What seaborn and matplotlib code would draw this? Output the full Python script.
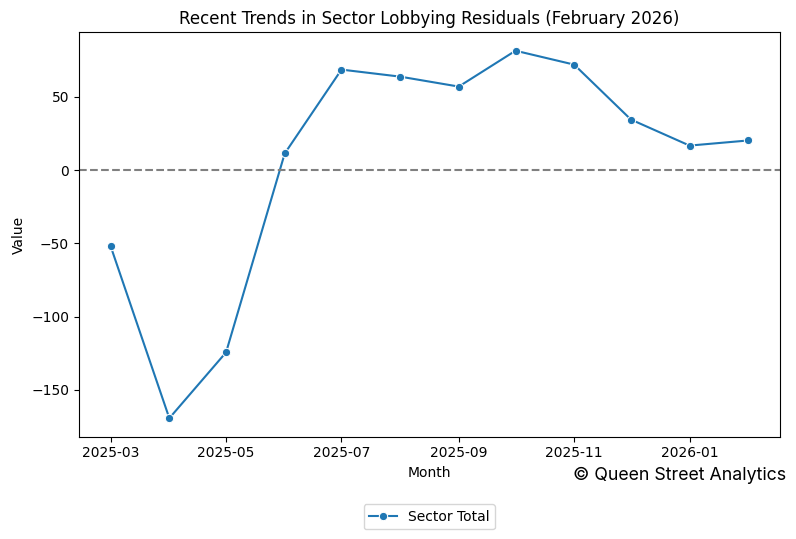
import pandas as pd
import matplotlib
matplotlib.use("Agg")
import matplotlib.pyplot as plt
import matplotlib.dates as mdates
import seaborn as sns

months = ["2025-03", "2025-04", "2025-05", "2025-06", "2025-07", "2025-08",
          "2025-09", "2025-10", "2025-11", "2025-12", "2026-01", "2026-02"]
values = [-52.0, -169.4, -124.4, 11.4, 68.7, 63.9,
          57.1, 81.6, 72.1, 34.6, 16.8, 20.3]
series_name = "Sector Total"


def main():
    df = pd.DataFrame({"Month": pd.to_datetime(months), "Value": values,
                       "Series": series_name})

    fig, ax = plt.subplots(figsize=(7.96, 5.39), dpi=100)
    fig.subplots_adjust(left=0.099, right=0.98, top=0.94, bottom=0.19)

    sns.lineplot(data=df, x="Month", y="Value", hue="Series", marker="o",
                 ax=ax, markersize=6)
    ax.axhline(0, color="gray", linestyle="--", linewidth=1.5)

    ax.xaxis.set_major_locator(mdates.MonthLocator(bymonth=[1, 3, 5, 7, 9, 11]))
    ax.xaxis.set_major_formatter(mdates.DateFormatter("%Y-%m"))

    ax.set_title("Recent Trends in Sector Lobbying Residuals (February 2026)")
    ax.set_xlabel("Month")
    ax.set_ylabel("Value")

    ax.legend(loc="upper center", bbox_to_anchor=(0.5, -0.15), ncol=1)

    fig.text(0.988, 0.117, "\u00a9 Queen Street Analytics", ha="right",
             va="center", fontsize=12.8, family=["Inter", "DejaVu Sans"])

    fig.savefig("out.png", dpi=100)


if __name__ == '__main__':
    main()
